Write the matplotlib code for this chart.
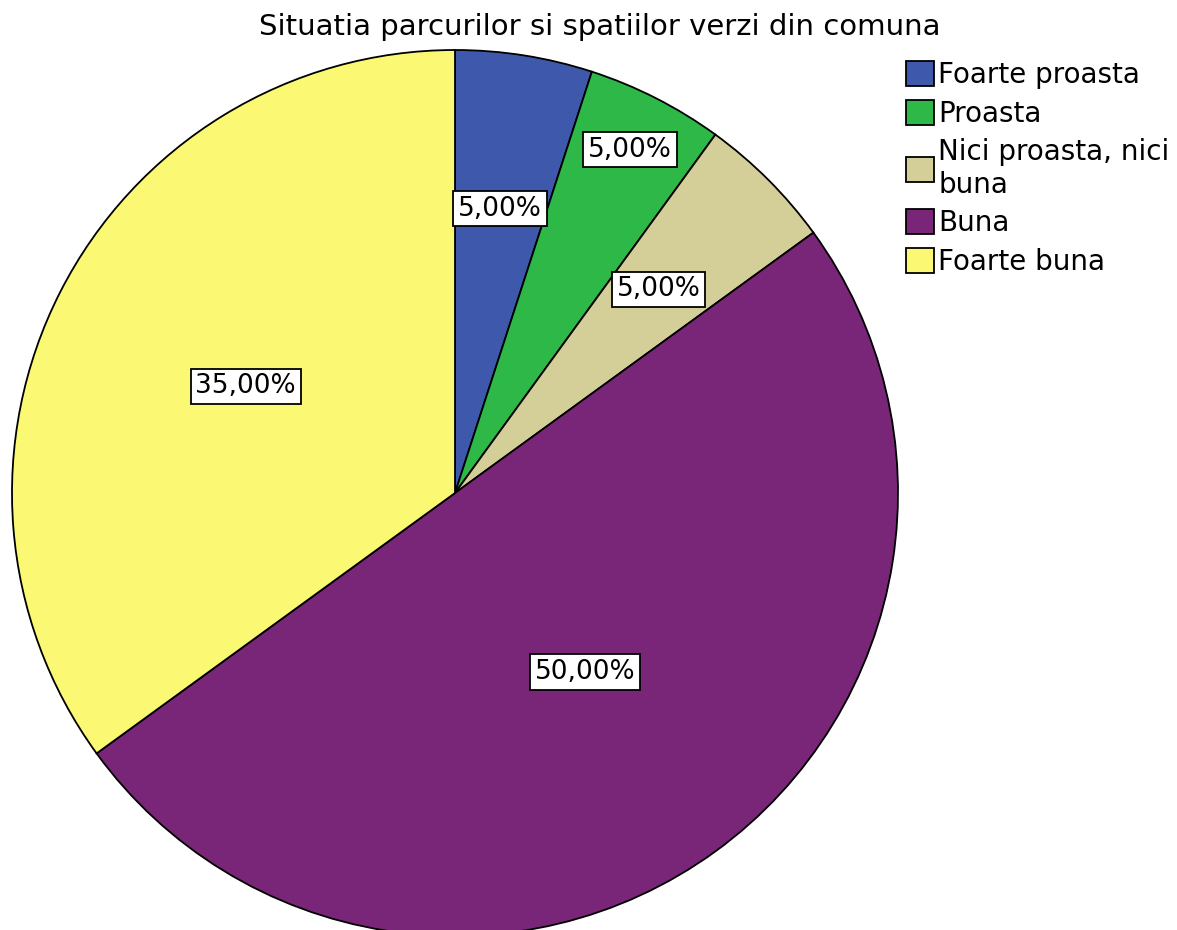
import numpy as np
import matplotlib.pyplot as plt

plt.rcParams['font.family'] = ['DejaVu Sans']

categories = ["Foarte proasta", "Proasta", "Nici proasta, nici\nbuna", "Buna", "Foarte buna"]
values = [5.0, 5.0, 5.0, 50.0, 35.0]
colors = ["#3E58AC", "#2EB848", "#D4CE99", "#7A2678", "#FBF873"]
label_radius = [0.65, 0.87, 0.65, 0.5, 0.53]

fig = plt.figure(figsize=(11.77, 9.30), dpi=100)
ax = fig.add_axes([12 / 1177, -6 / 930, 886 / 1177, 886 / 930])

wedges, _ = ax.pie(values, colors=colors, startangle=90, counterclock=False,
                   radius=1.0, wedgeprops=dict(edgecolor="black", linewidth=1.3))
ax.set_xlim(-1, 1)
ax.set_ylim(-1, 1)
ax.set_aspect('auto')
ax.axis('off')

for w, v, r in zip(wedges, values, label_radius):
    ang = np.deg2rad((w.theta1 + w.theta2) / 2)
    ax.text(r * np.cos(ang), r * np.sin(ang), f"{v:.2f}%".replace(".", ","),
            ha='center', va='center', fontsize=19,
            bbox=dict(facecolor='white', edgecolor='black', linewidth=1.3, pad=3.5))

fig.text(600 / 1177, 1 - 27 / 930, "Situatia parcurilor si spatiilor verzi din comuna",
         ha='center', va='center', fontsize=21)

fig.legend(wedges, categories, loc='upper left', bbox_to_anchor=(895 / 1177, 1 - 50 / 930),
           frameon=False, fontsize=20, handlelength=1.0, handleheight=1.0,
           handletextpad=0.15, labelspacing=0.38, borderaxespad=0)

fig.savefig("out.png", dpi=100)
